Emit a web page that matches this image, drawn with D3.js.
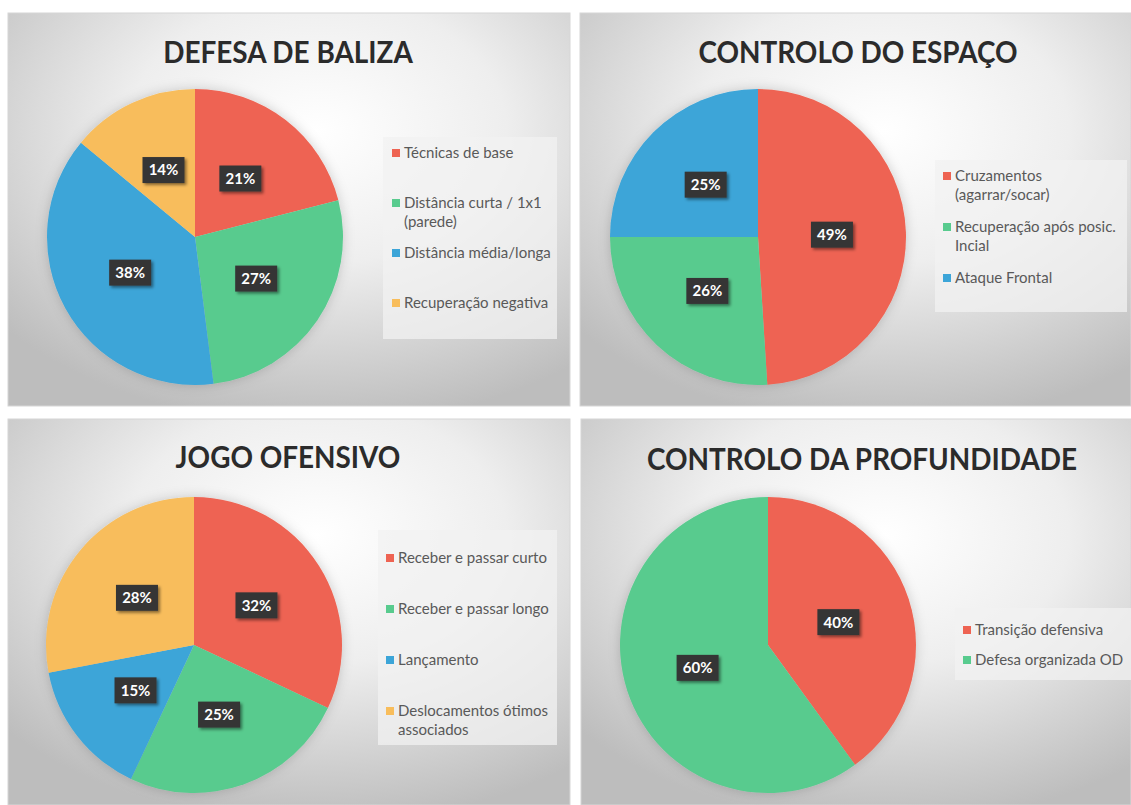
<!DOCTYPE html>
<html>
<head>
<meta charset="utf-8">
<script src="https://cdn.jsdelivr.net/npm/d3@7"></script>
<style>
  html, body { margin: 0; padding: 0; background: #ffffff; }
  svg { display: block; }
</style>
</head>
<body>
<svg id="chart" width="1131" height="805"></svg>
<script>
// ---- Data ---------------------------------------------------------------
const titles = ["DEFESA DE BALIZA", "CONTROLO DO ESPAÇO", "JOGO OFENSIVO", "CONTROLO DA PROFUNDIDADE"];

const defesaCategories = ["Técnicas de base", "Distância curta / 1x1\n(parede)", "Distância média/longa", "Recuperação negativa"];
const defesaValues = [21, 27, 38, 14];

const espacoCategories = ["Cruzamentos\n(agarrar/socar)", "Recuperação após posic.\nIncial", "Ataque Frontal"];
const espacoValues = [49, 26, 25];

const ofensivoCategories = ["Receber e passar curto", "Receber e passar longo", "Lançamento", "Deslocamentos ótimos\nassociados"];
const ofensivoValues = [32, 25, 15, 28];

const profundidadeCategories = ["Transição defensiva", "Defesa organizada OD"];
const profundidadeValues = [40, 60];

const sliceColors = ["#EE6352", "#58CB8E", "#3CA5D8", "#F8BD5B"];

// ---- Layout of the four panels --------------------------------------------
const panels = [
  { title: titles[0], cats: defesaCategories, vals: defesaValues,
    box: [8, 13, 562, 393], cx: 195, cy: 237, r: 148, tx: 288, ty: 63,
    legend: [383, 137, 174, 202], first: 153, step: 50, textX: 404 },
  { title: titles[1], cats: espacoCategories, vals: espacoValues,
    box: [580, 13, 551, 393], cx: 758, cy: 237, r: 148, tx: 858, ty: 63,
    legend: [935, 160, 192, 152], first: 176, step: 51, textX: 955 },
  { title: titles[2], cats: ofensivoCategories, vals: ofensivoValues,
    box: [8, 419, 562, 386], cx: 194, cy: 645, r: 148, tx: 288, ty: 468,
    legend: [378, 530, 179, 215], first: 558, step: 51, textX: 398 },
  { title: titles[3], cats: profundidadeCategories, vals: profundidadeValues,
    box: [581, 419, 550, 386], cx: 768, cy: 645, r: 148, tx: 862, ty: 470,
    legend: [955, 608, 176, 72], first: 630, step: 30, textX: 975 }
];

const svg = d3.select("#chart");
const defs = svg.append("defs");

// Soft grey radial background used by each panel
const bg = defs.append("radialGradient")
  .attr("id", "panelBg")
  .attr("cx", "55%").attr("cy", "30%").attr("r", "75%")
  .attr("fx", "55%").attr("fy", "30%");
bg.append("stop").attr("offset", "0%").attr("stop-color", "#ffffff");
bg.append("stop").attr("offset", "45%").attr("stop-color", "#eeeeee");
bg.append("stop").attr("offset", "100%").attr("stop-color", "#bdbdbd");

// Shadow under the value labels
const lblShadow = defs.append("filter").attr("id", "lblShadow")
  .attr("x", "-30%").attr("y", "-30%").attr("width", "170%").attr("height", "170%");
lblShadow.append("feDropShadow").attr("dx", 2).attr("dy", 2).attr("stdDeviation", 1.6)
  .attr("flood-color", "#000").attr("flood-opacity", 0.45);

// Faint halo around each pie
const pieShadow = defs.append("filter").attr("id", "pieShadow")
  .attr("x", "-20%").attr("y", "-20%").attr("width", "140%").attr("height", "140%");
pieShadow.append("feDropShadow").attr("dx", 0).attr("dy", 0).attr("stdDeviation", 6)
  .attr("flood-color", "#000").attr("flood-opacity", 0.18);

const pie = d3.pie().sort(null).value(d => d);
const fmt = d3.format(".0%");

panels.forEach(p => {
  const g = svg.append("g");
  const [bx, by, bw, bh] = p.box;

  g.append("rect")
    .attr("x", bx).attr("y", by).attr("width", bw).attr("height", bh)
    .attr("fill", "url(#panelBg)")
    .attr("stroke", "#d6d6d6").attr("stroke-width", 1);

  // Title, set in a slightly condensed bold face
  g.append("text")
    .attr("transform", `translate(${p.tx},${p.ty}) scale(0.9,1)`)
    .attr("text-anchor", "middle")
    .attr("font-family", "Lato, 'Open Sans', sans-serif")
    .attr("font-weight", 700)
    .attr("font-size", 31)
    .attr("fill", "#2b2b2b")
    .text(p.title);

  // Pie
  const color = d3.scaleOrdinal().domain(p.cats).range(sliceColors);
  const arc = d3.arc().innerRadius(0).outerRadius(p.r);
  const total = d3.sum(p.vals);
  const arcs = pie(p.vals);

  const pg = g.append("g").attr("transform", `translate(${p.cx},${p.cy})`);
  pg.append("g").attr("filter", "url(#pieShadow)")
    .selectAll("path").data(arcs).join("path")
    .attr("d", arc)
    .attr("fill", (d, i) => color(p.cats[i]));

  // Value labels in dark boxes
  const lg = pg.selectAll("g.lbl").data(arcs).join("g")
    .attr("class", "lbl")
    .attr("transform", d => `translate(${arc.centroid(d)})`);
  lg.append("rect")
    .attr("x", -21).attr("y", -13).attr("width", 42).attr("height", 26)
    .attr("fill", "#363636")
    .attr("filter", "url(#lblShadow)");
  lg.append("text")
    .attr("text-anchor", "middle")
    .attr("dy", "0.36em")
    .attr("font-family", "Lato, 'Open Sans', sans-serif")
    .attr("font-weight", 700)
    .attr("font-size", 15)
    .attr("fill", "#ffffff")
    .text(d => fmt(d.data / total));

  // Legend
  const [lx, ly, lw, lh] = p.legend;
  g.append("rect")
    .attr("x", lx).attr("y", ly).attr("width", lw).attr("height", lh)
    .attr("fill", "#f2f2f2").attr("fill-opacity", 0.75);

  const items = g.selectAll("g.item").data(p.cats).join("g")
    .attr("class", "item")
    .attr("transform", (d, i) => `translate(0,${p.first + i * p.step})`);
  items.append("rect")
    .attr("x", p.textX - 12).attr("y", -4).attr("width", 8).attr("height", 8)
    .attr("fill", d => color(d));
  items.append("text")
    .attr("font-family", "Lato, 'Open Sans', sans-serif")
    .attr("font-size", 15)
    .attr("fill", "#595959")
    .selectAll("tspan").data(d => d.split("\n")).join("tspan")
    .attr("x", p.textX)
    .attr("y", (d, j) => j * 19)
    .attr("dy", "0.35em")
    .text(d => d);
});
</script>
</body>
</html>
